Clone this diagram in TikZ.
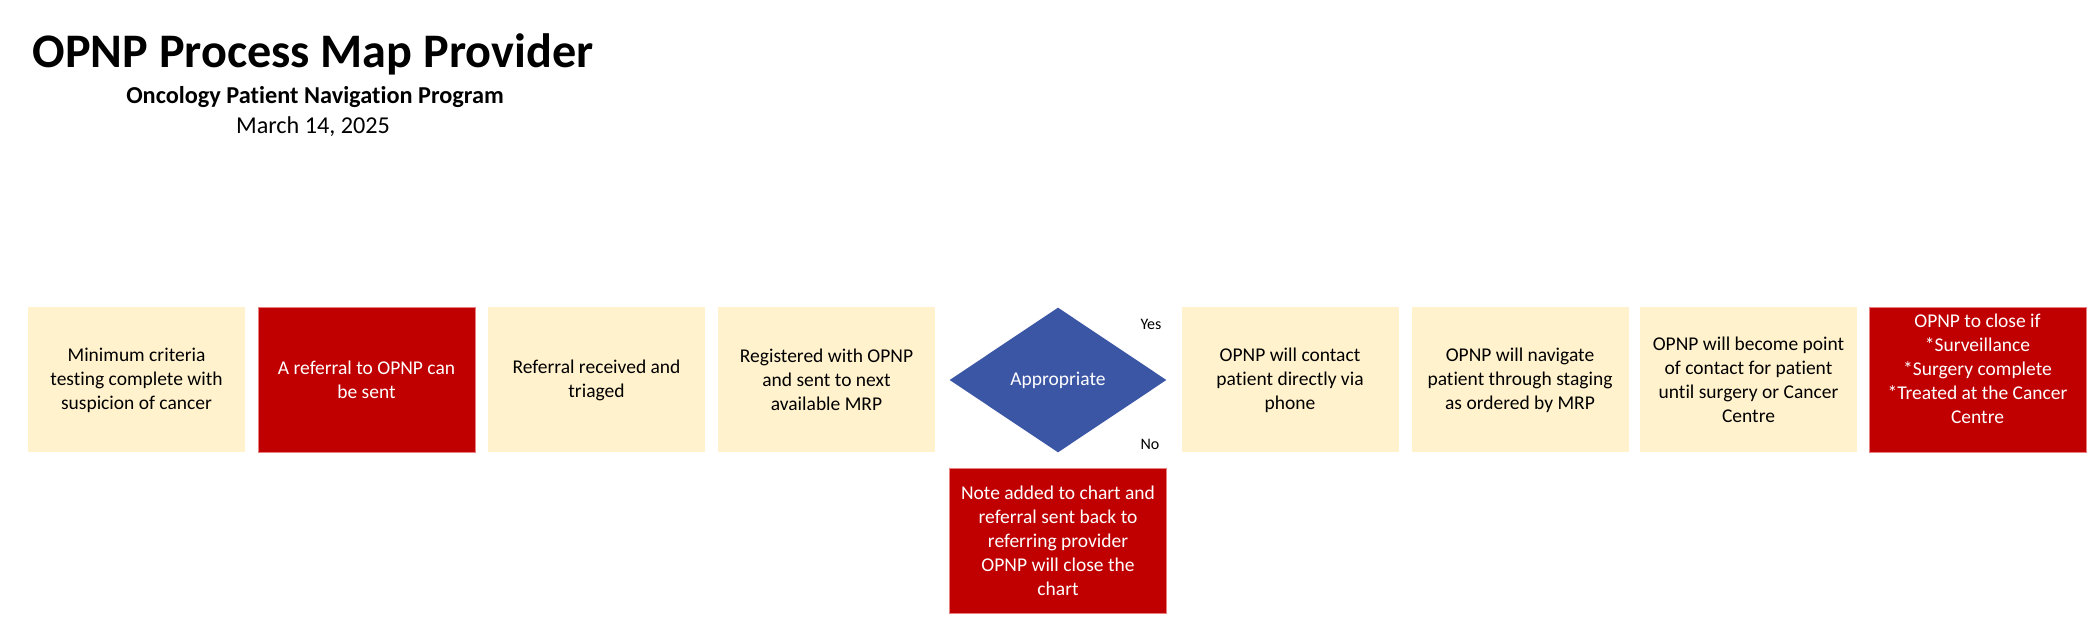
\documentclass[tikz,border=0pt]{standalone}
\usepackage{fontspec}
\setmainfont{Carlito}[Ligatures={NoCommon}]
\usetikzlibrary{shapes.geometric}

\definecolor{cream}{RGB}{255,242,204}
\definecolor{darkred}{RGB}{192,0,0}
\definecolor{edgered}{RGB}{232,128,128}
\definecolor{navyblue}{RGB}{59,86,165}

\begin{document}
\begin{tikzpicture}[
    x=0.5pt, y=-0.5pt,
    box/.style={rectangle, inner sep=0pt, minimum width=108.5pt, minimum height=72.5pt,
        align=center, font=\fontsize{9.75}{12}\selectfont},
    task/.style={box, fill=cream, text=black},
    alert/.style={box, fill=darkred, draw=edgered, line width=0.4pt, text=white},
    choice/.style={diamond, aspect=1.5, fill=navyblue, text=white, inner sep=0pt,
        minimum width=108.5pt, minimum height=72.5pt, font=\fontsize{9.75}{12}\selectfont},
    answer/.style={inner sep=0pt, font=\fontsize{8}{9.6}\selectfont}
]

\useasboundingbox (0,0) rectangle (2096,624);

% header
\node[anchor=base, font=\fontsize{24.1}{29}\selectfont\bfseries] (title) at (313,68) {OPNP Process Map Provider};
\node[anchor=base, font=\fontsize{12.15}{15}\selectfont\bfseries] (program) at (315,104) {Oncology Patient Navigation Program};
\node[anchor=base, font=\fontsize{12.1}{15}\selectfont] (date) at (313,134) {March 14, 2025};

% process row
\node[task] (criteria) at (136.5,380) {Minimum criteria\\testing complete with\\suspicion of cancer};
\node[alert] (referral) at (366.5,380) {A referral to OPNP can\\be sent};
\node[task] (triaged) at (596.5,380) {Referral received and\\triaged};
\node[task] (registered) at (826.5,380) {Registered with OPNP\\and sent to next\\available MRP};
\node[choice] (appropriate) at (1058,380) {Appropriate};
\node[task] (contact) at (1290,380) {OPNP will contact\\patient directly via\\phone};
\node[task] (staging) at (1520,380) {OPNP will navigate\\patient through staging\\as ordered by MRP};
\node[task] (point) at (1748.5,380) {OPNP will become point\\of contact for patient\\until surgery or Cancer\\Centre};
\node[alert] (close) at (1977.5,380) {OPNP to close if\\*Surveillance\\*Surgery complete\\*Treated at the Cancer\\Centre\rule[-11pt]{0pt}{11pt}};

% not appropriate
\node[alert] (sentback) at (1058,540.5) {Note added to chart and\\referral sent back to\\referring provider\\OPNP will close the\\chart};

\node[answer] (yes) at (1151,324) {Yes};
\node[answer] (no) at (1150,444) {No};

\end{tikzpicture}
\end{document}
